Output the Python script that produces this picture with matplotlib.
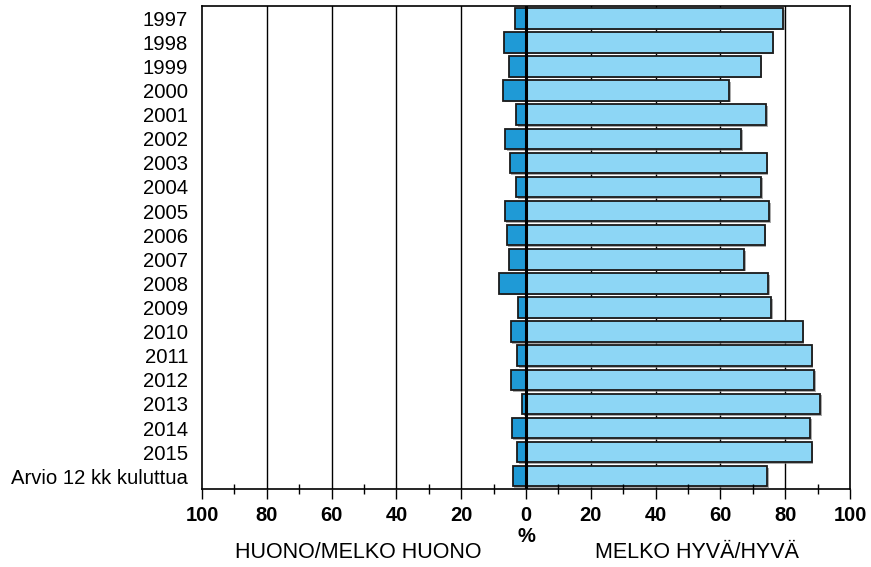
import matplotlib
matplotlib.use("Agg")
import matplotlib.pyplot as plt
import matplotlib.patheffects as pe
import numpy as np

plt.rcParams['font.family'] = ['Liberation Sans', 'DejaVu Sans']

categories = ["1997", "1998", "1999", "2000", "2001", "2002", "2003", "2004",
              "2005", "2006", "2007", "2008", "2009", "2010", "2011", "2012",
              "2013", "2014", "2015", "Arvio 12 kk kuluttua"]
bad = [3.4, 6.8, 5.4, 7.1, 3.0, 6.5, 5.0, 3.0, 6.6, 6.0,
       5.4, 8.3, 2.5, 4.7, 2.8, 4.6, 1.1, 4.4, 2.8, 4.1]
good = [79.4, 76.1, 72.4, 62.7, 74.1, 66.4, 74.3, 72.6, 75.1, 73.7,
        67.3, 74.8, 75.7, 85.4, 88.2, 88.9, 90.8, 87.7, 88.2, 74.4]
tick_values = [-100, -80, -60, -40, -20, 0, 20, 40, 60, 80, 100]
tick_labels = ["100", "80", "60", "40", "20", "0", "20", "40", "60", "80", "100"]
left_label = "HUONO/MELKO HUONO"
right_label = "MELKO HYVÄ/HYVÄ"
unit_label = "%"

W, H = 871, 567
fig = plt.figure(figsize=(W / 100, H / 100), dpi=100)
ax = fig.add_axes([202 / W, 1 - 489 / H, (850 - 202) / W, (489 - 5.5) / H])

y = np.arange(len(categories))
shadow = [pe.SimplePatchShadow(offset=(1.2, -1.2), shadow_rgbFace='#888888', alpha=0.7), pe.Normal()]

for gx in [-80, -60, -40, -20, 20, 40, 60, 80]:
    ax.axvline(gx, color='black', lw=1.0, zorder=1)

b1 = ax.barh(y, [-v for v in bad], height=0.85, color='#1F9AD6', edgecolor='#1a1a1a', lw=1.3, zorder=3)
b2 = ax.barh(y, good, height=0.85, color='#8DD6F5', edgecolor='#1a1a1a', lw=1.3, zorder=3)
for b in list(b1) + list(b2):
    b.set_path_effects(shadow)

ax.axvline(0, color='black', lw=2.2, zorder=5)

ax.set_xlim(-100, 100)
ax.set_ylim(len(categories) - 0.47, -0.53)
ax.set_yticks(y)
ax.set_yticklabels(categories, fontsize=14.6)
ax.tick_params(axis='y', length=0, pad=10)

ax.set_xticks(tick_values)
ax.set_xticklabels(tick_labels, fontsize=14.5, fontweight='bold')
ax.set_xticks(np.arange(-90, 100, 20), minor=True)
ax.tick_params(axis='x', which='major', direction='out', length=7, width=1.0, pad=5)
ax.tick_params(axis='x', which='minor', direction='inout', length=7, width=1.0)
ax.xaxis.set_zorder(4)

for s in ax.spines.values():
    s.set_linewidth(1.2)
    s.set_zorder(6)

fig.text(526 / W, 1 - 537 / H, unit_label, ha='center', va='center', fontsize=14.5, fontweight='bold')
fig.text(358 / W, 1 - 553 / H, left_label, ha='center', va='center', fontsize=15.5)
fig.text(697 / W, 1 - 553 / H, right_label, ha='center', va='center', fontsize=15.5)

fig.savefig("out.png", dpi=100)
